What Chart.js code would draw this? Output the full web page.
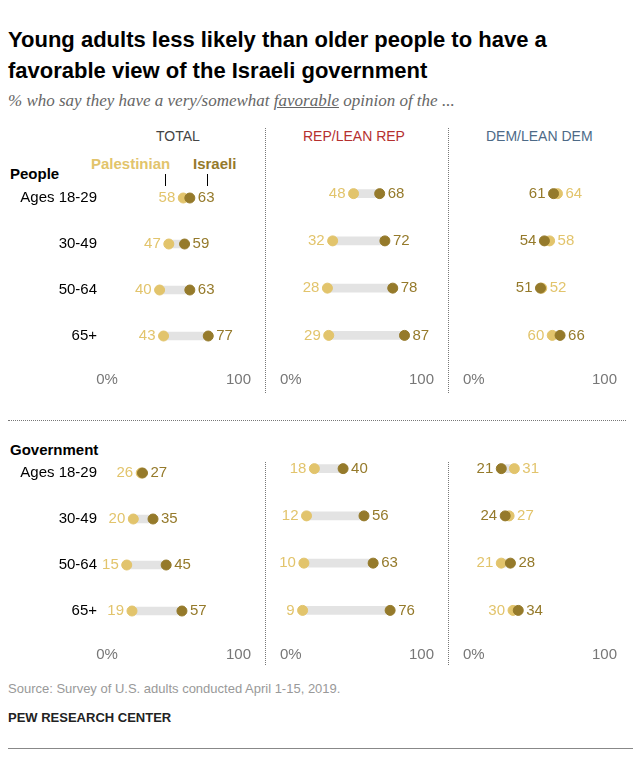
<!DOCTYPE html>
<html><head><meta charset="utf-8">
<script src="https://cdn.jsdelivr.net/npm/chart.js@4"></script>
<style>
body{margin:0;width:639px;height:757px;position:relative;background:#fff;font-family:"Liberation Sans",Arial,sans-serif;overflow:hidden}
.t{position:absolute;white-space:nowrap}
canvas{position:absolute}
.vl{position:absolute;border-left:1px dotted #777;width:0}
</style></head><body>
<div class="t" style="left:8px;top:24px;font-size:22px;font-weight:bold;color:#000;line-height:31px">Young adults less likely than older people to have a<br>favorable view of the Israeli government</div>
<div class="t" style="left:8px;top:91px;font-size:17px;font-style:italic;color:#666;font-family:'Liberation Serif',serif">% who say they have a very/somewhat <u>favorable</u> opinion of the ...</div>
<div class="t" style="left:156px;top:128px;font-size:14px;color:#444">TOTAL</div>
<div class="t" style="left:303px;top:128px;font-size:14px;color:#b5302f">REP/LEAN REP</div>
<div class="t" style="left:486px;top:128px;font-size:14px;color:#4d6a87">DEM/LEAN DEM</div>
<div class="t" style="left:91px;top:155px;font-size:15px;font-weight:bold;color:#e2c46c">Palestinian</div>
<div class="t" style="left:193px;top:155px;font-size:15px;font-weight:bold;color:#957a2b">Israeli</div>
<div style="position:absolute;left:165px;top:174px;width:1px;height:12px;background:#000"></div>
<div style="position:absolute;left:207px;top:174px;width:1px;height:12px;background:#000"></div>
<div class="t" style="left:10px;top:165px;font-size:15px;font-weight:bold">People</div>
<div class="t" style="left:10px;top:441px;font-size:15px;font-weight:bold">Government</div>
<div class="vl" style="left:265px;top:128px;height:265px"></div>
<div class="vl" style="left:448px;top:128px;height:265px"></div>
<div class="vl" style="left:265px;top:462px;height:203px"></div>
<div class="vl" style="left:448px;top:462px;height:203px"></div>
<div style="position:absolute;left:8px;top:420px;width:618px;border-top:1px dotted #777"></div>
<div class="t" style="left:8px;top:681px;font-size:13px;color:#999">Source: Survey of U.S. adults conducted April 1-15, 2019.</div>
<div class="t" style="left:8px;top:710px;font-size:13px;font-weight:bold;color:#222">PEW RESEARCH CENTER</div>
<div style="position:absolute;left:8px;top:748px;width:625px;height:1px;background:#888"></div>
<canvas id="c0"></canvas><canvas id="c1"></canvas><canvas id="c2"></canvas>
<canvas id="c3"></canvas><canvas id="c4"></canvas><canvas id="c5"></canvas>
<script>
const rows=["Ages 18-29","30-49","50-64","65+"];
const peoplePal={total:[58,47,40,43],rep:[48,32,28,29],dem:[64,58,52,60]};
const peopleIsr={total:[63,59,63,77],rep:[68,72,78,87],dem:[61,54,51,66]};
const govPal={total:[26,20,15,19],rep:[18,12,10,9],dem:[31,27,21,30]};
const govIsr={total:[27,35,45,57],rep:[40,56,63,76],dem:[21,24,28,34]};
const xTicks=[0,100];
const PAL="#e2c46c",ISR="#957a2b";

const labelPlugin={id:'lbl',afterDatasetsDraw(ch){
  const ctx=ch.ctx;ctx.save();ctx.font="15px 'Liberation Sans',Arial";ctx.textBaseline='middle';
  const p=ch.getDatasetMeta(1).data,i=ch.getDatasetMeta(2).data;
  const pv=ch.data.datasets[1].data,iv=ch.data.datasets[2].data;
  for(let k=0;k<p.length;k++){
    const a={el:p[k],v:pv[k].x,c:PAL},b={el:i[k],v:iv[k].x,c:ISR};
    let lo=a,hi=b;
    if(a.v>b.v){lo=b;hi=a;}
    ctx.fillStyle=lo.c;ctx.textAlign='right';ctx.fillText(lo.v,lo.el.x-8,lo.el.y);
    ctx.fillStyle=hi.c;ctx.textAlign='left';ctx.fillText(hi.v,hi.el.x+8,hi.el.y);
  }
  ctx.restore();}};

function make(id,left,top,pal,isr,first){
  const cv=document.getElementById(id);
  const w=first?255:162;
  cv.style.left=left+'px';cv.style.top=top+'px';cv.style.width=w+'px';cv.style.height='235px';
  new Chart(cv,{type:'bar',
    data:{labels:rows,datasets:[
      {data:pal.map((v,k)=>[Math.min(v,isr[k]),Math.max(v,isr[k])]),backgroundColor:'#e3e3e3',barThickness:8,order:3},
      {type:'line',data:pal.map((v,k)=>({x:v,y:rows[k]})),showLine:false,pointRadius:5,pointHoverRadius:5,pointBackgroundColor:PAL,pointBorderColor:PAL,order:2},
      {type:'line',data:isr.map((v,k)=>({x:v,y:rows[k]})),showLine:false,pointRadius:5,pointHoverRadius:5,pointBackgroundColor:ISR,pointBorderColor:ISR,order:1}
    ]},
    options:{indexAxis:'y',responsive:false,animation:false,devicePixelRatio:1,
      layout:{padding:{left:first?0:14,right:14,top:3,bottom:0}},
      plugins:{legend:{display:false},tooltip:{enabled:false}},
      scales:{
        x:{min:0,max:100,grid:{display:false},border:{display:false},
          afterBuildTicks:s=>{s.ticks=xTicks.map(v=>({value:v}));},
          afterFit:s=>{s.height=40;},
          ticks:{padding:4,maxRotation:0,minRotation:0,color:'#777',font:{size:15,family:"'Liberation Sans',Arial"},callback:v=>v===0?'0%':String(v)}},
        y:{display:first,grid:{display:false},border:{display:false},
          afterFit:s=>{if(first)s.width=107;},
          ticks:{padding:2,color:'#000',font:{size:15,family:"'Liberation Sans',Arial"}}}
      }},
    plugins:[labelPlugin]});
}
make('c0',0,164,peoplePal.total,peopleIsr.total,true);
make('c1',276,164,peoplePal.rep,peopleIsr.rep,false);
make('c2',459,164,peoplePal.dem,peopleIsr.dem,false);
make('c3',0,439,govPal.total,govIsr.total,true);
make('c4',276,439,govPal.rep,govIsr.rep,false);
make('c5',459,439,govPal.dem,govIsr.dem,false);
</script></body></html>
